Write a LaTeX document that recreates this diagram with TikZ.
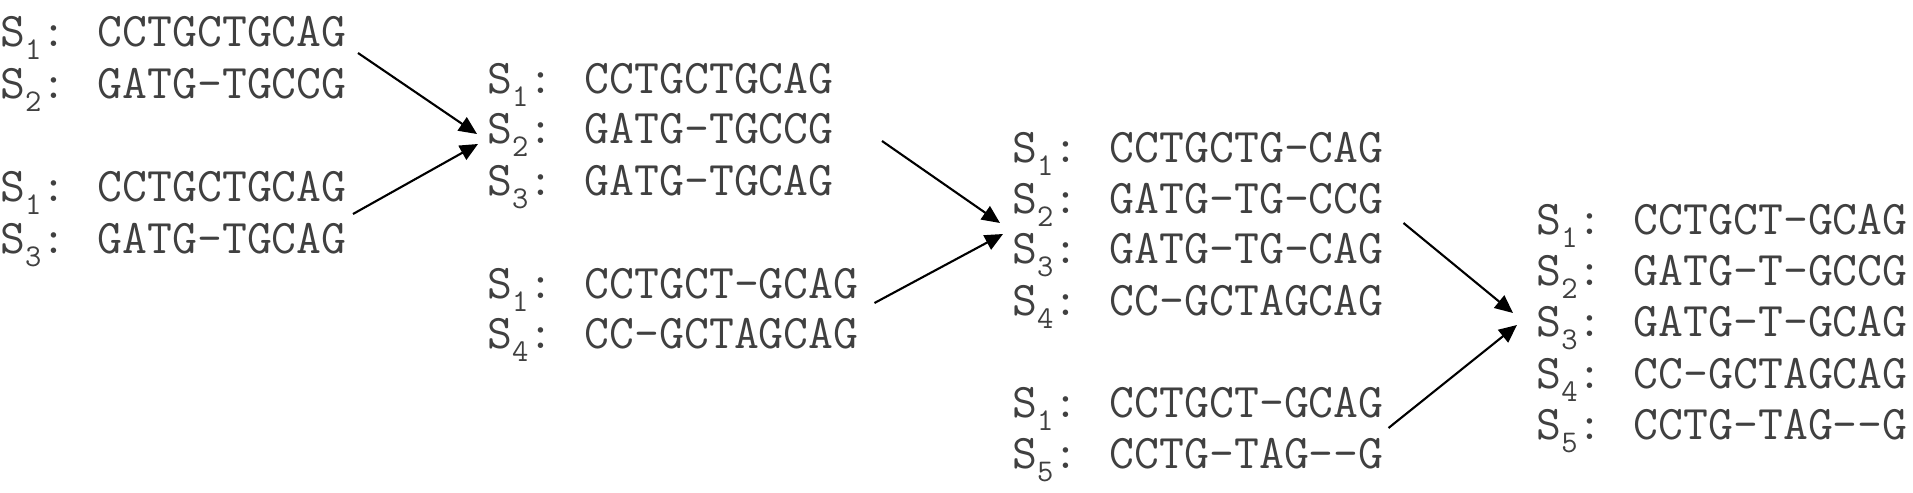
\documentclass[tikz,border=0pt]{standalone}
\usepackage{fontspec}
\usetikzlibrary{arrows.meta}
\tikzstyle{seqline}=[anchor=base west,inner sep=0pt,text=black!75,
                     font=\ttfamily\fontsize{27.5}{33}\selectfont]
\tikzstyle{merge}=[-{Triangle[length=3.6mm,width=3.2mm]},line width=1.2pt]
\newcommand{\sline}[2]{S\raisebox{-7.5pt}{\fontsize{18}{18}\selectfont #1}:\hspace{-1pt} #2}

\begin{document}
\begin{tikzpicture}[x=0.02cm,y=-0.02cm]
    \useasboundingbox (0,0) rectangle (1913,493);
    % pairwise alignments
    \node (pa1) at (0,46.5) [seqline]{\sline{1}{CCTGCTGCAG}};
    \node (pa2) at (0,98.5) [seqline]{\sline{2}{GATG-TGCCG}};
    \node (pb1) at (0,201.5) [seqline]{\sline{1}{CCTGCTGCAG}};
    \node (pb3) at (0,253.5) [seqline]{\sline{3}{GATG-TGCAG}};
    \node (ma1) at (487,93.5) [seqline]{\sline{1}{CCTGCTGCAG}};
    \node (ma2) at (487,143.5) [seqline]{\sline{2}{GATG-TGCCG}};
    \node (ma3) at (487,195.5) [seqline]{\sline{3}{GATG-TGCAG}};
    \node (pc1) at (487,298.5) [seqline]{\sline{1}{CCTGCT-GCAG}};
    \node (pc4) at (487,348.5) [seqline]{\sline{4}{CC-GCTAGCAG}};
    \node (mb1) at (1012,162.5) [seqline]{\sline{1}{CCTGCTG-CAG}};
    \node (mb2) at (1012,213.5) [seqline]{\sline{2}{GATG-TG-CCG}};
    \node (mb3) at (1012,263.5) [seqline]{\sline{3}{GATG-TG-CAG}};
    \node (mb4) at (1012,315.5) [seqline]{\sline{4}{CC-GCTAGCAG}};
    \node (pd1) at (1012,417.5) [seqline]{\sline{1}{CCTGCT-GCAG}};
    \node (pd5) at (1012,468.5) [seqline]{\sline{5}{CCTG-TAG--G}};
    % final alignment
    \node (mc1) at (1536,234.5) [seqline]{\sline{1}{CCTGCT-GCAG}};
    \node (mc2) at (1536,285.5) [seqline]{\sline{2}{GATG-T-GCCG}};
    \node (mc3) at (1536,336.5) [seqline]{\sline{3}{GATG-T-GCAG}};
    \node (mc4) at (1536,388.5) [seqline]{\sline{4}{CC-GCTAGCAG}};
    \node (mc5) at (1536,439.5) [seqline]{\sline{5}{CCTG-TAG--G}};
    \draw[merge] ([shift={(11,6.5)}]pa1.base east) -- ([shift={(-10,-9.5)}]ma2.base west);
    \draw[merge] ([shift={(6,12.5)}]pb1.base east) -- ([shift={(-9,0.5)}]ma2.base west);
    \draw[merge] ([shift={(48,-2.5)}]ma2.base east) -- ([shift={(-12,9.5)}]mb2.base west);
    \draw[merge] ([shift={(15.6,4.5)}]pc1.base east) -- ([shift={(-9,-29.5)}]mb3.base west);
    \draw[merge] ([shift={(19.6,9.5)}]mb2.base east) -- ([shift={(-23,-23.5)}]mc3.base west);
    \draw[merge] ([shift={(4.6,10.5)}]pd1.base east) -- ([shift={(-19,-11.5)}]mc3.base west);
  \end{tikzpicture}
\end{document}
